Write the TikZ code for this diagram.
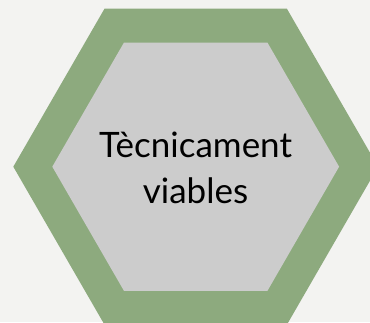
\documentclass[tikz,border=0pt]{standalone}
\usepackage{fontspec}
\setmainfont{Lato}
\usetikzlibrary{calc}
\definecolor{bgc}{HTML}{F3F3F1}
\definecolor{hexgreen}{HTML}{8DAA7E}
\definecolor{hexgray}{HTML}{CCCCCC}
\tikzset{
  outerhex/.style={fill=hexgreen, draw=none},
  innerhex/.style={fill=hexgray, draw=none},
  label/.style={align=center, font=\fontsize{35}{45.5}\selectfont, text=black, inner sep=0pt}
}
\begin{document}
\begin{tikzpicture}[x=1pt,y=-1pt]
\fill[bgc] (0,0) rectangle (370,322);
\useasboundingbox (0,0) rectangle (370,322);
\coordinate (c) at (195.7,166.7);
\begin{scope}
\clip (0,0) rectangle (370,322);
\fill[outerhex] ($(c)+(-182.4,0)$) -- ($(c)+(-91.2,-158)$) -- ($(c)+(91.2,-158)$) -- ($(c)+(182.4,0)$) -- ($(c)+(91.2,158)$) -- ($(c)+(-91.2,158)$) -- cycle;
\end{scope}
\fill[innerhex] ($(c)+(-143.4,0)$) -- ($(c)+(-71.7,-124.2)$) -- ($(c)+(71.7,-124.2)$) -- ($(c)+(143.4,0)$) -- ($(c)+(71.7,124.2)$) -- ($(c)+(-71.7,124.2)$) -- cycle;
\node[label, anchor=base] (t) at (195.5,203.2) {Tècnicament\\viables};
\end{tikzpicture}
\end{document}
